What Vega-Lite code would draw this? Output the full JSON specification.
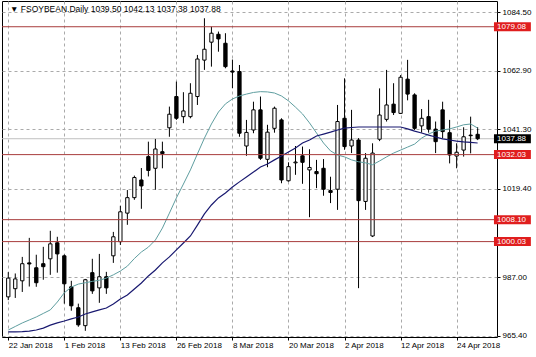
{
  "$schema": "https://vega.github.io/schema/vega-lite/v6.json",
  "width": 495,
  "height": 336,
  "autosize": {"type": "none"},
  "padding": {"left": 2, "top": 1, "right": 39, "bottom": 20},
  "background": "#ffffff",
  "config": {"view": {"stroke": "#000000", "strokeWidth": 1}, "font": "Liberation Sans", "axis": {"labelOverlap": false, "labelBound": false, "labelFlush": false}},
  "datasets": {
    "candles": [
      {"i":0,"date":"2018-01-22","open":979.7,"high":988.8,"low":978.5,"close":986.6,"maFast":967.5,"maSlow":966.8},
      {"i":1,"date":"2018-01-23","open":982.7,"high":988.3,"low":979.3,"close":986.3,"maFast":968.8,"maSlow":966.8},
      {"i":2,"date":"2018-01-24","open":985.6,"high":994.4,"low":981.5,"close":991.9,"maFast":970.1,"maSlow":966.9},
      {"i":3,"date":"2018-01-25","open":992.2,"high":1001.4,"low":983.5,"close":991.8,"maFast":971.2,"maSlow":967.1},
      {"i":4,"date":"2018-01-26","open":990.4,"high":995.2,"low":983.4,"close":984.9,"maFast":972.3,"maSlow":967.5},
      {"i":5,"date":"2018-01-29","open":991.9,"high":998.1,"low":986.0,"close":990.8,"maFast":973.6,"maSlow":968.2},
      {"i":6,"date":"2018-01-30","open":993.7,"high":1004.0,"low":987.8,"close":999.2,"maFast":974.9,"maSlow":969.3},
      {"i":7,"date":"2018-01-31","open":999.6,"high":1001.8,"low":988.6,"close":995.5,"maFast":977.8,"maSlow":970.1},
      {"i":8,"date":"2018-02-01","open":994.8,"high":995.3,"low":977.2,"close":984.5,"maFast":981.2,"maSlow":970.8},
      {"i":9,"date":"2018-02-02","open":983.4,"high":985.6,"low":974.6,"close":976.4,"maFast":983.3,"maSlow":971.6},
      {"i":10,"date":"2018-02-05","open":975.7,"high":977.2,"low":968.7,"close":969.4,"maFast":984.4,"maSlow":972.3},
      {"i":11,"date":"2018-02-06","open":969.1,"high":986.3,"low":967.2,"close":986.0,"maFast":984.9,"maSlow":973.4},
      {"i":12,"date":"2018-02-07","open":988.6,"high":993.7,"low":980.8,"close":981.9,"maFast":985.4,"maSlow":974.2},
      {"i":13,"date":"2018-02-08","open":983.0,"high":995.5,"low":977.5,"close":987.1,"maFast":985.8,"maSlow":974.9},
      {"i":14,"date":"2018-02-09","open":987.1,"high":988.9,"low":980.8,"close":983.0,"maFast":986.6,"maSlow":975.6},
      {"i":15,"date":"2018-02-12","open":994.8,"high":1003.6,"low":992.2,"close":1001.8,"maFast":987.8,"maSlow":977.1},
      {"i":16,"date":"2018-02-13","open":1000.0,"high":1013.2,"low":998.8,"close":1011.0,"maFast":989.2,"maSlow":978.9},
      {"i":17,"date":"2018-02-14","open":1010.5,"high":1019.0,"low":1006.2,"close":1016.2,"maFast":991.0,"maSlow":980.4},
      {"i":18,"date":"2018-02-15","open":1016.2,"high":1024.3,"low":1015.4,"close":1023.6,"maFast":993.8,"maSlow":982.6},
      {"i":19,"date":"2018-02-16","open":1022.7,"high":1027.1,"low":1012.1,"close":1020.5,"maFast":996.2,"maSlow":984.8},
      {"i":20,"date":"2018-02-20","open":1031.3,"high":1036.8,"low":1024.0,"close":1026.2,"maFast":998.0,"maSlow":987.4},
      {"i":21,"date":"2018-02-21","open":1027.0,"high":1037.8,"low":1019.1,"close":1034.1,"maFast":1000.6,"maSlow":989.6},
      {"i":22,"date":"2018-02-22","open":1033.1,"high":1036.8,"low":1027.0,"close":1032.4,"maFast":1005.0,"maSlow":992.2},
      {"i":23,"date":"2018-02-23","open":1041.9,"high":1049.7,"low":1038.6,"close":1046.9,"maFast":1010.5,"maSlow":994.4},
      {"i":24,"date":"2018-02-26","open":1053.4,"high":1058.9,"low":1044.8,"close":1045.4,"maFast":1016.1,"maSlow":997.0},
      {"i":25,"date":"2018-02-27","open":1046.0,"high":1055.0,"low":1043.6,"close":1048.1,"maFast":1021.2,"maSlow":999.5},
      {"i":26,"date":"2018-02-28","open":1046.0,"high":1058.3,"low":1045.4,"close":1054.6,"maFast":1026.4,"maSlow":1002.1},
      {"i":27,"date":"2018-03-01","open":1053.4,"high":1068.7,"low":1050.3,"close":1067.2,"maFast":1032.3,"maSlow":1006.1},
      {"i":28,"date":"2018-03-02","open":1066.8,"high":1082.2,"low":1063.2,"close":1070.8,"maFast":1038.1,"maSlow":1010.2},
      {"i":29,"date":"2018-03-05","open":1073.4,"high":1079.1,"low":1064.4,"close":1076.7,"maFast":1043.3,"maSlow":1013.5},
      {"i":30,"date":"2018-03-06","open":1076.3,"high":1077.3,"low":1069.9,"close":1074.6,"maFast":1047.7,"maSlow":1016.1},
      {"i":31,"date":"2018-03-07","open":1073.0,"high":1076.7,"low":1063.8,"close":1064.4,"maFast":1050.7,"maSlow":1017.9},
      {"i":32,"date":"2018-03-08","open":1062.8,"high":1067.0,"low":1056.5,"close":1062.4,"maFast":1052.5,"maSlow":1020.1},
      {"i":33,"date":"2018-03-09","open":1062.6,"high":1065.0,"low":1038.6,"close":1039.9,"maFast":1053.6,"maSlow":1022.0},
      {"i":34,"date":"2018-03-12","open":1035.2,"high":1044.8,"low":1031.6,"close":1040.2,"maFast":1054.3,"maSlow":1023.8},
      {"i":35,"date":"2018-03-13","open":1041.1,"high":1051.5,"low":1039.9,"close":1048.5,"maFast":1054.9,"maSlow":1025.6},
      {"i":36,"date":"2018-03-14","open":1048.5,"high":1053.4,"low":1030.1,"close":1030.7,"maFast":1055.2,"maSlow":1027.5},
      {"i":37,"date":"2018-03-15","open":1030.3,"high":1043.0,"low":1027.4,"close":1040.3,"maFast":1055.1,"maSlow":1028.6},
      {"i":38,"date":"2018-03-16","open":1041.7,"high":1049.7,"low":1040.1,"close":1049.1,"maFast":1054.7,"maSlow":1030.1},
      {"i":39,"date":"2018-03-19","open":1044.8,"high":1045.4,"low":1021.5,"close":1022.7,"maFast":1053.6,"maSlow":1031.5},
      {"i":40,"date":"2018-03-20","open":1022.4,"high":1029.2,"low":1022.1,"close":1027.6,"maFast":1051.8,"maSlow":1033.0},
      {"i":41,"date":"2018-03-21","open":1029.0,"high":1035.2,"low":1024.6,"close":1029.3,"maFast":1049.5,"maSlow":1034.5},
      {"i":42,"date":"2018-03-22","open":1031.6,"high":1035.0,"low":1021.3,"close":1029.2,"maFast":1047.0,"maSlow":1036.3},
      {"i":43,"date":"2018-03-23","open":1026.4,"high":1034.0,"low":1009.0,"close":1027.3,"maFast":1043.7,"maSlow":1037.4},
      {"i":44,"date":"2018-03-26","open":1025.8,"high":1030.1,"low":1019.7,"close":1025.0,"maFast":1040.0,"maSlow":1038.9},
      {"i":45,"date":"2018-03-27","open":1027.0,"high":1030.4,"low":1016.9,"close":1019.3,"maFast":1036.3,"maSlow":1039.6},
      {"i":46,"date":"2018-03-28","open":1018.8,"high":1023.9,"low":1014.2,"close":1018.1,"maFast":1033.4,"maSlow":1040.3},
      {"i":47,"date":"2018-03-29","open":1019.3,"high":1050.3,"low":1011.7,"close":1044.2,"maFast":1031.9,"maSlow":1041.1},
      {"i":48,"date":"2018-04-02","open":1045.4,"high":1060.1,"low":1033.8,"close":1035.0,"maFast":1031.2,"maSlow":1041.8},
      {"i":49,"date":"2018-04-03","open":1035.2,"high":1048.5,"low":1032.6,"close":1037.4,"maFast":1030.1,"maSlow":1042.0},
      {"i":50,"date":"2018-04-04","open":1037.4,"high":1038.1,"low":982.9,"close":1015.1,"maFast":1029.4,"maSlow":1042.2},
      {"i":51,"date":"2018-04-05","open":1014.8,"high":1032.6,"low":1011.7,"close":1030.7,"maFast":1029.0,"maSlow":1042.2},
      {"i":52,"date":"2018-04-06","open":1002.1,"high":1036.2,"low":1001.7,"close":1032.6,"maFast":1028.3,"maSlow":1042.2},
      {"i":53,"date":"2018-04-09","open":1037.7,"high":1056.4,"low":1037.0,"close":1046.6,"maFast":1029.7,"maSlow":1042.2},
      {"i":54,"date":"2018-04-10","open":1045.0,"high":1063.2,"low":1044.2,"close":1050.3,"maFast":1031.2,"maSlow":1042.2},
      {"i":55,"date":"2018-04-11","open":1050.6,"high":1058.3,"low":1046.6,"close":1047.5,"maFast":1032.6,"maSlow":1042.2},
      {"i":56,"date":"2018-04-12","open":1047.2,"high":1061.3,"low":1047.0,"close":1060.5,"maFast":1033.7,"maSlow":1042.2},
      {"i":57,"date":"2018-04-13","open":1059.8,"high":1066.9,"low":1052.0,"close":1054.3,"maFast":1034.8,"maSlow":1041.5},
      {"i":58,"date":"2018-04-16","open":1054.0,"high":1054.6,"low":1041.1,"close":1041.7,"maFast":1035.9,"maSlow":1040.7},
      {"i":59,"date":"2018-04-17","open":1042.6,"high":1048.8,"low":1040.1,"close":1045.4,"maFast":1038.1,"maSlow":1040.0},
      {"i":60,"date":"2018-04-18","open":1046.0,"high":1052.2,"low":1040.1,"close":1041.4,"maFast":1039.6,"maSlow":1039.2},
      {"i":61,"date":"2018-04-19","open":1041.4,"high":1044.2,"low":1032.6,"close":1036.8,"maFast":1040.7,"maSlow":1038.5},
      {"i":62,"date":"2018-04-20","open":1048.5,"high":1051.5,"low":1038.0,"close":1040.5,"maFast":1041.1,"maSlow":1037.8},
      {"i":63,"date":"2018-04-23","open":1040.1,"high":1044.8,"low":1028.8,"close":1031.9,"maFast":1041.5,"maSlow":1037.4},
      {"i":64,"date":"2018-04-24","open":1031.5,"high":1036.2,"low":1027.0,"close":1032.9,"maFast":1042.2,"maSlow":1037.0},
      {"i":65,"date":"2018-04-25","open":1033.7,"high":1042.1,"low":1031.3,"close":1038.6,"maFast":1043.0,"maSlow":1036.7},
      {"i":66,"date":"2018-04-26","open":1039.2,"high":1046.0,"low":1032.5,"close":1039.0,"maFast":1043.3,"maSlow":1036.5},
      {"i":67,"date":"2018-04-27","open":1039.5,"high":1042.13,"low":1037.38,"close":1037.88,"maFast":1041.8,"maSlow":1036.3}
    ],
    "levels": [
      {"level":1079.08,"kind":"line"},
      {"level":1032.03,"kind":"line"},
      {"level":1008.10,"kind":"line"},
      {"level":1000.03,"kind":"line"},
      {"level":1037.88,"kind":"price"}
    ],
    "header": [
      {"text": "▼ FSOYBEAN.Daily  1039.50 1042.13 1037.38 1037.88"}
    ]
  },
  "layer": [
    {
      "data": {"name": "levels"},
      "transform": [{"filter": "datum.kind == 'price'"}],
      "mark": {"type": "rule", "color": "#c0c0c0", "strokeWidth": 1},
      "encoding": {
        "y": {"field": "level", "type": "quantitative", "title": null, "scale": {"domain": [964.93, 1088.55], "nice": false, "zero": false}}
      }
    },
    {
      "data": {"name": "candles"},
      "mark": {"type": "rule", "color": "#000000", "strokeWidth": 1},
      "encoding": {
        "x": {"field": "i", "type": "quantitative", "title": null,
          "scale": {"domain": [-0.182, 69.05], "nice": false, "zero": false},
          "axis": {
            "values": [0,4,8,12,16,20,24,28,32,36,40,44,48,52,56,60,64,68],
            "labelExpr": "datum.value % 8 == 0 ? ['22 Jan 2018','1 Feb 2018','13 Feb 2018','26 Feb 2018','8 Mar 2018','20 Mar 2018','2 Apr 2018','12 Apr 2018','24 Apr 2018'][datum.value / 8] : ''",
            "grid": true, "gridColor": "#aaaaaa", "gridDash": [3, 3], "gridWidth": 1,
            "domain": false, "ticks": true, "tickSize": 3,
            "tickColor": {"condition": {"test": "datum.value % 8 == 0", "value": "#000000"}, "value": "rgba(0,0,0,0)"},
            "labelAlign": "left", "labelBaseline": "top", "labelPadding": 1, "labelOffset": 0,
            "labelFont": "Liberation Sans", "labelFontSize": 8, "labelColor": "#000000",
            "labelOverlap": false, "labelBound": false, "labelFlush": false
          }
        },
        "y": {"field": "low", "type": "quantitative", "title": null,
          "scale": {"domain": [964.93, 1088.55], "nice": false, "zero": false},
          "axis": {
            "orient": "right",
            "values": [1084.5, 1073.7, 1062.9, 1052.1, 1041.3, 1030.5, 1019.4, 997.8, 987.0, 976.2, 965.4],
            "format": ".2f",
            "grid": true, "gridColor": "#aaaaaa", "gridDash": [3, 3], "gridWidth": 1,
            "domain": false, "ticks": true, "tickSize": 3, "tickColor": "#000000",
            "labelAlign": "left", "labelBaseline": "middle", "labelPadding": 2,
            "labelFont": "Liberation Sans", "labelFontSize": 8, "labelColor": "#000000",
            "labelOverlap": false, "labelBound": false, "labelFlush": false
          }
        },
        "y2": {"field": "high"}
      }
    },
    {
      "data": {"name": "candles"},
      "mark": {"type": "bar", "width": 3.3, "stroke": "#000000", "strokeWidth": 1},
      "encoding": {
        "x": {"field": "i", "type": "quantitative", "title": null, "scale": {"domain": [-0.182, 69.05], "nice": false, "zero": false}},
        "y": {"field": "open", "type": "quantitative", "title": null, "scale": {"domain": [964.93, 1088.55], "nice": false, "zero": false}},
        "y2": {"field": "close"},
        "fill": {"condition": {"test": "datum.close >= datum.open", "value": "#ffffff"}, "value": "#000000"}
      }
    },
    {
      "data": {"name": "candles"},
      "mark": {"type": "line", "color": "#5f9ea0", "strokeWidth": 1},
      "encoding": {
        "x": {"field": "i", "type": "quantitative", "title": null, "scale": {"domain": [-0.182, 69.05], "nice": false, "zero": false}},
        "y": {"field": "maFast", "type": "quantitative", "title": null, "scale": {"domain": [964.93, 1088.55], "nice": false, "zero": false}}
      }
    },
    {
      "data": {"name": "candles"},
      "mark": {"type": "line", "color": "#191970", "strokeWidth": 1.2},
      "encoding": {
        "x": {"field": "i", "type": "quantitative", "title": null, "scale": {"domain": [-0.182, 69.05], "nice": false, "zero": false}},
        "y": {"field": "maSlow", "type": "quantitative", "title": null, "scale": {"domain": [964.93, 1088.55], "nice": false, "zero": false}}
      }
    },
    {
      "data": {"name": "levels"},
      "transform": [{"filter": "datum.kind == 'line'"}],
      "mark": {"type": "rule", "color": "#a83c3c", "strokeWidth": 1},
      "encoding": {
        "y": {"field": "level", "type": "quantitative", "title": null, "scale": {"domain": [964.93, 1088.55], "nice": false, "zero": false}}
      }
    },
    {
      "data": {"name": "levels"},
      "mark": {"type": "rect", "yOffset": -4.5, "y2Offset": 4.5},
      "encoding": {
        "x": {"datum": 69.33, "type": "quantitative", "scale": {"domain": [-0.182, 69.05], "nice": false, "zero": false}},
        "x2": {"datum": 74.6},
        "y": {"field": "level", "type": "quantitative", "title": null, "scale": {"domain": [964.93, 1088.55], "nice": false, "zero": false}},
        "y2": {"field": "level"},
        "fill": {"condition": {"test": "datum.kind == 'price'", "value": "#000000"}, "value": "#e01e1e"}
      }
    },
    {
      "data": {"name": "levels"},
      "mark": {"type": "text", "align": "left", "baseline": "middle", "dy": 0.5, "font": "Liberation Sans", "fontSize": 8, "color": "#ffffff"},
      "encoding": {
        "x": {"datum": 69.78, "type": "quantitative", "scale": {"domain": [-0.182, 69.05], "nice": false, "zero": false}},
        "y": {"field": "level", "type": "quantitative", "title": null, "scale": {"domain": [964.93, 1088.55], "nice": false, "zero": false}},
        "text": {"field": "level", "type": "quantitative", "format": ".2f"}
      }
    },
    {
      "data": {"name": "header"},
      "mark": {"type": "text", "align": "left", "baseline": "alphabetic", "dx": 3, "dy": 10.5, "font": "Liberation Sans", "fontSize": 8.5, "color": "#000000"},
      "encoding": {
        "x": {"datum": -0.182, "type": "quantitative", "scale": {"domain": [-0.182, 69.05], "nice": false, "zero": false}},
        "y": {"datum": 1088.55, "type": "quantitative", "scale": {"domain": [964.93, 1088.55], "nice": false, "zero": false}},
        "text": {"field": "text", "type": "nominal"}
      }
    }
  ]
}
